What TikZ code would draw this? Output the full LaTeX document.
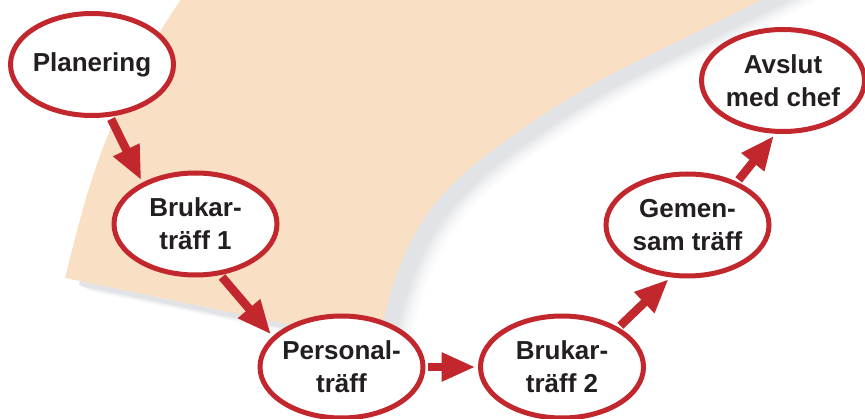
\documentclass[tikz,border=0pt]{standalone}
\usepackage{fontspec}
\setmainfont{Liberation Sans}
\usetikzlibrary{shapes.geometric,arrows.meta}
\definecolor{peach}{HTML}{F9DFC4}
\definecolor{shadowgray}{HTML}{E1E3E6}
\definecolor{redline}{HTML}{C1272D}
\definecolor{ink}{HTML}{231F20}
\tikzset{
  bubble/.style={ellipse, draw=redline, line width=5pt, fill=white,
    minimum width=163pt, minimum height=102pt, inner sep=0pt},
  txt/.style={text=ink, font=\fontsize{26}{33}\selectfont\bfseries, align=center, inner sep=0pt},
  arr/.style={draw=redline, line width=8.5pt, -{Triangle[length=34pt,width=27pt]},
    shorten <=2.5pt, shorten >=2.5pt}
}
\begin{document}
\begin{tikzpicture}[x=1pt,y=-1pt]
\useasboundingbox (0,0) rectangle (865,419);
\begin{scope}
\clip (0,0) rectangle (865,419);
\foreach \s/\col in {30/shadowgray!5,28/shadowgray!12,26/shadowgray!20,24/shadowgray!30,22/shadowgray!42,20/shadowgray!56,18/shadowgray!72,16/shadowgray!88,14/shadowgray!100,0/peach}{
  \fill[\col, shift={(\s,0.5*\s)}] (202,-30) -- (852,-47)
    .. controls (820,-28) and (700,30) .. (640,60)
    .. controls (580,88) and (525,125) .. (480,160)
    .. controls (410,215) and (395,270) .. (378,343)
    -- (65,278)
    .. controls (85,200) and (105,100) .. (202,-30)
    -- cycle;
}
\end{scope}

\node[bubble, label={[txt]center:Planering}] (pl) at (92,64.5) {};
\node[bubble, label={[txt]center:{Brukar-\\träff 1}}] (b1) at (195.5,224) {};
\node[bubble, label={[txt]center:{Personal-\\träff}}] (pe) at (341.5,367) {};
\node[bubble, label={[txt]center:{Brukar-\\träff 2}}] (b2) at (562,367) {};
\node[bubble, label={[txt]center:{Gemen-\\sam träff}}] (ge) at (687.5,225) {};
\node[bubble, label={[txt]center:{Avslut\\med chef}}] (av) at (783,80.5) {};

\draw[arr] (pl.-71) -- (b1.142);
\draw[arr] (b1.-64) -- (pe.156);
\draw[arr] (pe.east) -- (b2.west);
\draw[arr] (b2.35) -- (ge.-108);
\draw[arr] (ge.41) -- (av.-98);
\end{tikzpicture}
\end{document}
